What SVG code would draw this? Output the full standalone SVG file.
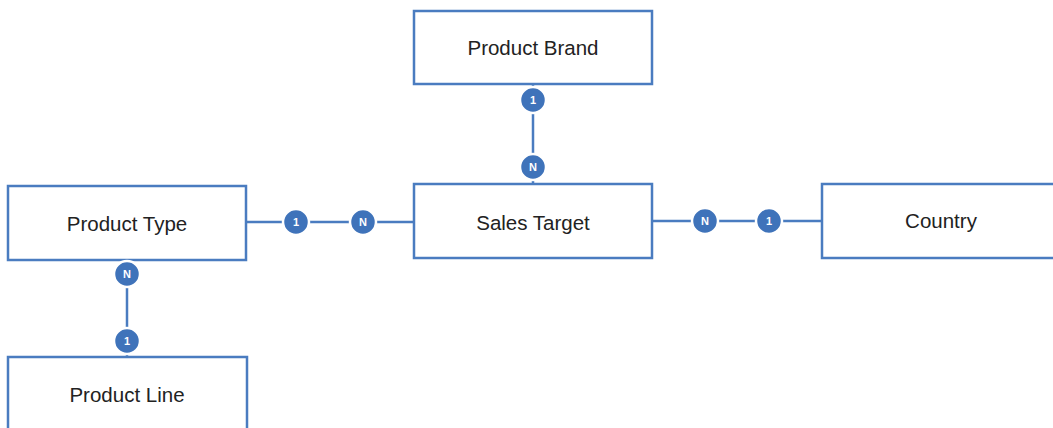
<svg xmlns="http://www.w3.org/2000/svg" width="1053" height="428" viewBox="0 0 1053 428">
  <style>
    .entity rect { fill: #ffffff; stroke: #4a7cc0; stroke-width: 2.5; }
    .entity text { font-family: "Liberation Sans", Arial, sans-serif; font-size: 20.5px; fill: #222222; text-anchor: middle; dominant-baseline: central; }
    .link { stroke: #4a7cc0; stroke-width: 2.5; fill: none; }
    .card circle { fill: #3f73ba; stroke: #ffffff; stroke-width: 2.5; }
    .card text { font-family: "Liberation Sans", Arial, sans-serif; font-size: 11px; font-weight: bold; fill: #ffffff; text-anchor: middle; dominant-baseline: central; }
  </style>
  <rect width="1053" height="428" fill="#ffffff"/>

  <g id="connectors">
    <line class="link" x1="533" y1="84" x2="533" y2="184"/>
    <line class="link" x1="246" y1="222" x2="414" y2="222"/>
    <line class="link" x1="652" y1="221" x2="822" y2="221"/>
    <line class="link" x1="127" y1="260" x2="127" y2="357"/>
  </g>

  <g id="product-brand" class="entity">
    <rect x="414" y="11" width="238" height="73"/>
    <text x="533" y="47">Product Brand</text>
  </g>
  <g id="sales-target" class="entity">
    <rect x="414" y="184" width="238" height="74"/>
    <text x="533" y="222">Sales Target</text>
  </g>
  <g id="product-type" class="entity">
    <rect x="8" y="186" width="238" height="74"/>
    <text x="127" y="223">Product Type</text>
  </g>
  <g id="product-line" class="entity">
    <rect x="8" y="357" width="239" height="80"/>
    <text x="127" y="394">Product Line</text>
  </g>
  <g id="country" class="entity">
    <rect x="822" y="184" width="240" height="74"/>
    <text x="941" y="220">Country</text>
  </g>

  <g id="cardinalities">
    <g class="card"><circle cx="533" cy="100" r="13"/><text x="533" y="100">1</text></g>
    <g class="card"><circle cx="533" cy="167" r="13"/><text x="533" y="167">N</text></g>
    <g class="card"><circle cx="296" cy="222" r="13"/><text x="296" y="222">1</text></g>
    <g class="card"><circle cx="363" cy="222" r="13"/><text x="363" y="222">N</text></g>
    <g class="card"><circle cx="705" cy="221" r="13"/><text x="705" y="221">N</text></g>
    <g class="card"><circle cx="769" cy="221" r="13"/><text x="769" y="221">1</text></g>
    <g class="card"><circle cx="127" cy="274" r="13"/><text x="127" y="274">N</text></g>
    <g class="card"><circle cx="127" cy="341" r="13"/><text x="127" y="341">1</text></g>
  </g>
</svg>
